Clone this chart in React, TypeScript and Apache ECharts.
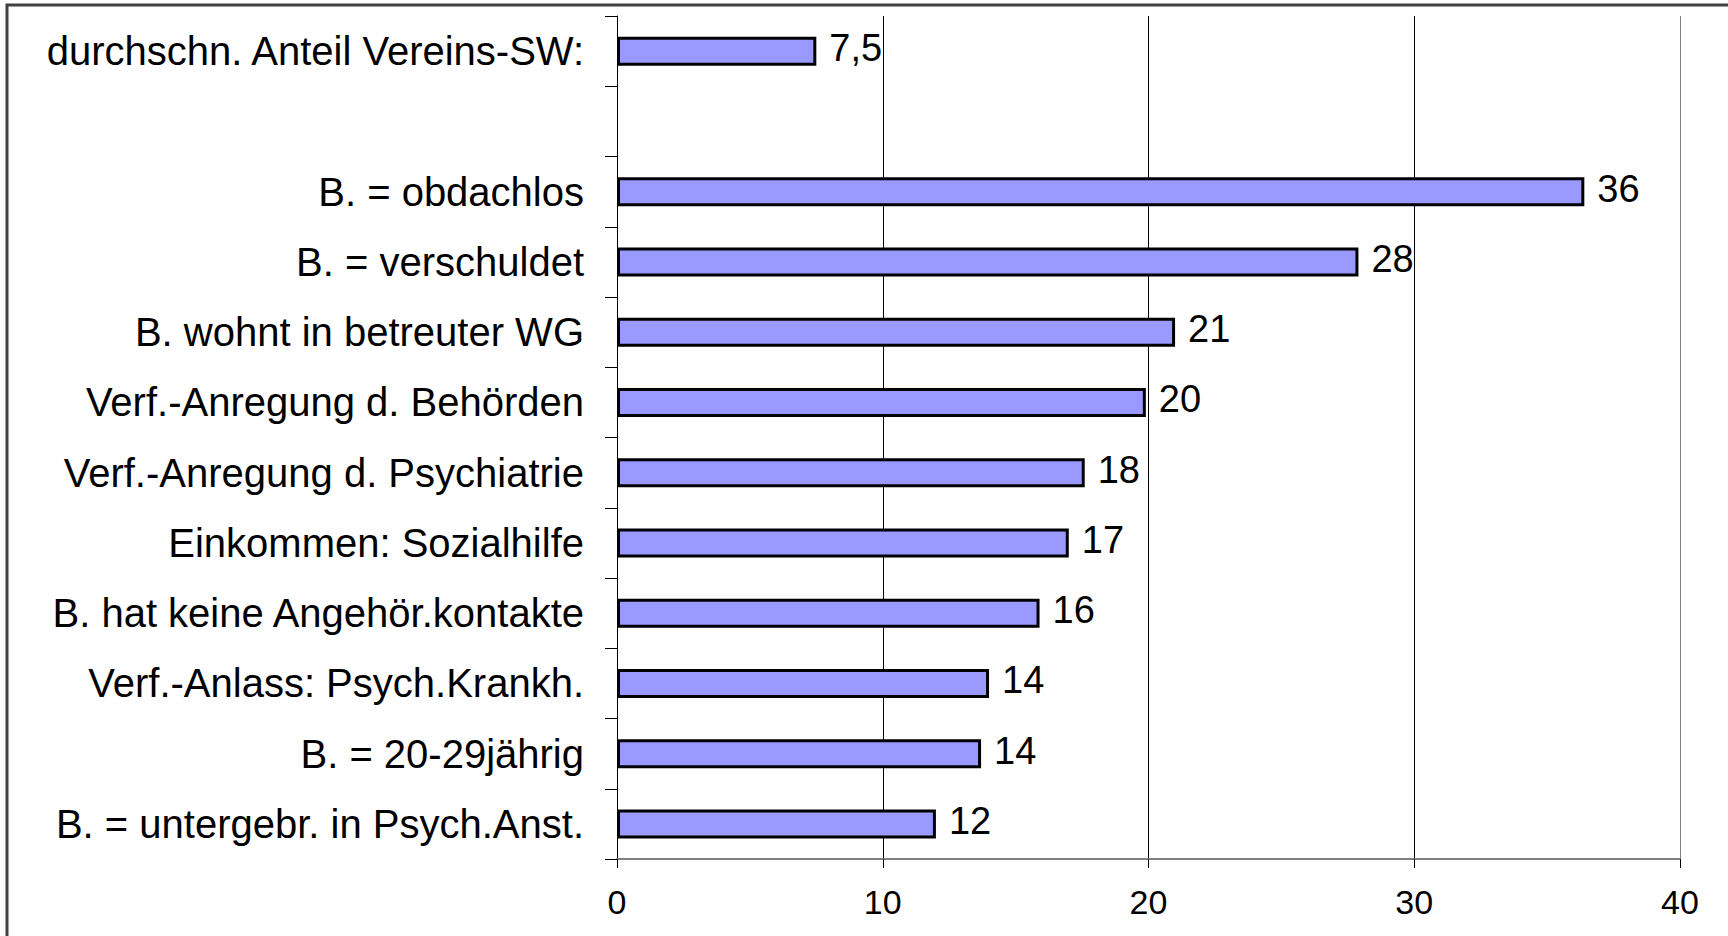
import React, { useEffect, useRef } from "react";
import * as echarts from "echarts";

const categories: string[] = [
  "durchschn. Anteil Vereins-SW:",
  "",
  "B. = obdachlos",
  "B. = verschuldet",
  "B. wohnt in betreuter WG",
  "Verf.-Anregung d. Behörden",
  "Verf.-Anregung d. Psychiatrie",
  "Einkommen: Sozialhilfe",
  "B. hat keine Angehör.kontakte",
  "Verf.-Anlass: Psych.Krankh.",
  "B. = 20-29jährig",
  "B. = untergebr. in Psych.Anst.",
];

const values: (number | null)[] = [7.5, null, 36.4, 27.9, 21.0, 19.9, 17.6, 17.0, 15.9, 14.0, 13.7, 12.0];

const valueLabels: string[] = ["7,5", "", "36", "28", "21", "20", "18", "17", "16", "14", "14", "12"];

const xTicks = { min: 0, max: 40, interval: 10 };

const FONT = "'Liberation Sans', Arial, sans-serif";

export default function App() {
  const ref = useRef<HTMLDivElement>(null);

  useEffect(() => {
    if (!ref.current) return;
    const chart = echarts.init(ref.current, null, { renderer: "svg" });
    chart.setOption({
      animation: false,
      backgroundColor: "#ffffff",
      textStyle: { fontFamily: FONT },
      graphic: [
        {
          type: "rect",
          z: -1,
          silent: true,
          shape: { x: 7, y: 5, width: 1800, height: 1000 },
          style: { fill: "none", stroke: "#404040", lineWidth: 3 },
        },
      ],
      grid: { left: 617, right: 48, top: 16, bottom: 77, containLabel: false },
      xAxis: {
        type: "value",
        min: xTicks.min,
        max: xTicks.max,
        interval: xTicks.interval,
        axisLine: { show: true, lineStyle: { color: "#808080", width: 2 } },
        axisTick: { show: true, length: 9, lineStyle: { color: "#000", width: 1 } },
        axisLabel: { color: "#000", fontSize: 34, fontFamily: FONT, margin: 26 },
        splitLine: {
          show: true,
          lineStyle: { color: ["#000", "#000", "#000", "#000", "#808080"], width: 1 },
        },
      },
      yAxis: {
        type: "category",
        inverse: true,
        data: categories,
        axisLine: { show: true, onZero: false, lineStyle: { color: "#000", width: 1 } },
        axisTick: { show: true, length: 12, lineStyle: { color: "#000", width: 1 } },
        axisLabel: { color: "#000", fontSize: 40, fontFamily: FONT, margin: 33 },
        splitLine: { show: false },
      },
      series: [
        {
          type: "bar",
          data: values,
          barWidth: 29,
          itemStyle: { color: "#9999ff", borderColor: "#000", borderWidth: 3 },
          label: {
            show: true,
            position: "right",
            distance: 13,
            offset: [0, -3],
            color: "#000",
            fontSize: 38,
            fontFamily: FONT,
            formatter: (p: any) => valueLabels[p.dataIndex],
          },
        },
      ],
    });
    return () => chart.dispose();
  }, []);

  return (
    <div
      ref={ref}
      style={{ position: "fixed", left: 0, top: 0, width: 1728, height: 936 }}
    />
  );
}
